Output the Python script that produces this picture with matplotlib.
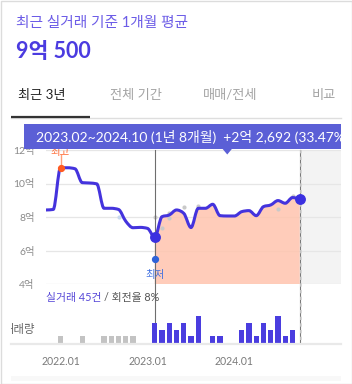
import numpy as np
import matplotlib
matplotlib.use('Agg')
import matplotlib.pyplot as plt
import matplotlib.transforms as mtransforms
from matplotlib.path import Path
from matplotlib.patches import PathPatch, Rectangle, Polygon
from matplotlib.lines import Line2D

plt.rcParams['font.family'] = ['Lato', 'Noto Sans CJK KR', 'DejaVu Sans']

# month index: 0 = 2022.01
months = list(range(-2, 34))  # 2021.11 .. 2024.10
avg_price = [8.42, 8.45, 10.94, 10.94, 10.88, 10.05, 10.03, 9.98, 8.52, 8.52,
             8.45, 7.75, 7.36, 7.38, 7.32, 6.78, 8.02, 8.12, 8.42, 8.22,
             7.37, 8.52, 8.52, 8.76, 8.08, 8.06, 8.06, 8.32, 8.38, 8.08,
             8.62, 8.72, 8.98, 8.82, 9.16, 9.05]

deal_m = [8, 13, 14, 15, 15, 17, 19, 30, 32]
deal_v = [8.0, 8.02, 7.37, 8.26, 7.96, 8.58, 8.66, 8.48, 9.25]

vol_old_m = [0, 3, 6, 7, 8, 9, 10]
vol_old = [1, 1, 1, 1, 1, 1, 1]
vol_new_m = [13, 14, 15, 16, 17, 18, 19, 21, 22, 25, 26, 27, 28, 29, 30, 31, 32]
vol_new = [3, 2, 3, 2, 3, 1, 4, 1, 1, 2, 3, 1, 3, 2, 4, 1, 2]

ytick_vals = [4, 6, 8, 10, 12]
ytick_labels = ['4억', '6억', '8억', '10억', '12억']
xtick_m = [0, 12, 24]
xtick_labels = ['2022.01', '2023.01', '2024.01']

p_start, p_end = 13, 33
high_m, high_v = 0, 10.94
low_m, low_v = 13, 5.5

W, H = 352, 384
fig = plt.figure(figsize=(W / 100, H / 100), dpi=100)


def px_axes(x0, y0, x1, y1, z=1):
    a = fig.add_axes([x0 / W, 1 - y1 / H, (x1 - x0) / W, (y1 - y0) / H], zorder=z)
    a.patch.set_visible(False)
    return a


def mono_path(x, y):
    # monotone cubic (like d3 curveMonotoneX) as bezier segments
    x = np.asarray(x, float); y = np.asarray(y, float)
    n = len(x)
    h = np.diff(x); s = np.diff(y) / h
    t = np.zeros(n)
    for i in range(1, n - 1):
        p = (s[i - 1] * h[i] + s[i] * h[i - 1]) / (h[i - 1] + h[i])
        t[i] = (np.sign(s[i - 1]) + np.sign(s[i])) * min(abs(s[i - 1]), abs(s[i]), 0.5 * abs(p))
    t[0] = (3 * s[0] - t[1]) / 2
    t[-1] = (3 * s[-1] - t[-2]) / 2
    verts = [(x[0], y[0])]; codes = [Path.MOVETO]
    for i in range(n - 1):
        d = h[i] / 3
        verts += [(x[i] + d, y[i] + t[i] * d), (x[i + 1] - d, y[i + 1] - t[i + 1] * d), (x[i + 1], y[i + 1])]
        codes += [Path.CURVE4] * 3
    return verts, codes


x_lo = (46 - 60.5) / 7.25
x_hi = (341 - 60.5) / 7.25

# main price chart
ax = px_axes(46, 150, 341, 284, z=1)
ax.set_xlim(x_lo, x_hi)
ax.set_ylim(4, 12)
for sp in ax.spines.values():
    sp.set_visible(False)
ax.set_xticks([])
ax.set_yticks(ytick_vals)
ax.set_yticklabels(ytick_labels)
ax.tick_params(axis='y', length=0, pad=8, labelsize=7.5, labelcolor='#8a8a8a')
ax.grid(axis='y', color='#e6e6e6', lw=0.9)
ax.set_axisbelow(True)
ax.add_patch(Rectangle((p_end, 4), x_hi - p_end, 8, facecolor='#f3f3f3', edgecolor='none', zorder=0.2))

i0, i1 = months.index(p_start), months.index(p_end)
fv, fc = mono_path(months[i0:i1 + 1], avg_price[i0:i1 + 1])
fv += [(p_end, 4), (p_start, 4), (p_start, 4)]
fc += [Path.LINETO, Path.LINETO, Path.CLOSEPOLY]
ax.add_patch(PathPatch(Path(fv, fc), facecolor='#ffc4ae', alpha=0.85, edgecolor='none', zorder=1))

ax.scatter(deal_m[:1], deal_v[:1], s=9, color='#c8d9ef', zorder=2, linewidths=0)
ax.scatter(deal_m[1:], deal_v[1:], s=9, color='#c9c9c9', zorder=2, linewidths=0)

lv, lc = mono_path(months, avg_price)
ax.add_patch(PathPatch(Path(lv, lc), fill=False, edgecolor='#4433dd', lw=2.2,
                       capstyle='round', joinstyle='round', zorder=3))

# period markers
vtrans = mtransforms.blended_transform_factory(ax.transData, fig.transFigure)
ax.add_line(Line2D([p_start, p_start], [1 - 150 / H, 1 - 343 / H], transform=vtrans,
                   color='#6e6e6e', lw=0.8, clip_on=False, zorder=2.5))
ax.add_line(Line2D([p_end, p_end], [1 - 150 / H, 1 - 343 / H], transform=vtrans,
                   color='#7a7a7a', lw=0.8, clip_on=False, zorder=2.5))
ax.add_line(Line2D([p_end + 0.22, p_end + 0.22], [1 - 150 / H, 1 - 343 / H], transform=vtrans,
                   color='#d0d0d0', lw=1.2, ls=(0, (2, 2)), clip_on=False, zorder=2.5))

ax.plot([p_start, p_end], [avg_price[i0], avg_price[i1]], 'o', ms=6.8, color='#3b30e0',
        zorder=4, clip_on=False)

# high / low
ax.plot([high_m, high_m], [high_v, 11.72], color='#ff9f7a', lw=1, zorder=3.5, clip_on=False)
ax.plot([high_m], [high_v], 'o', ms=4.2, color='#ff5a22', zorder=4, clip_on=False)
ax.text(high_m, 11.9, '최고', color='#ff6a33', fontsize=7.5, ha='center', va='center', zorder=4)
ax.plot([low_m], [low_v], 'o', ms=4.2, color='#2f63d9', zorder=4, clip_on=False)
ax.text(low_m, 4.55, '최저', color='#3f6fe0', fontsize=7.5, ha='center', va='center', zorder=4)

# volume bars
vol = px_axes(46, 316.3, 341, 343, z=1)
vol.set_xlim(x_lo, x_hi)
vol.set_ylim(0, 4)
for sp in vol.spines.values():
    sp.set_visible(False)
vol.bar(vol_old_m, vol_old, width=0.7, color='#c3c3c3', zorder=2)
vol.bar(vol_new_m, vol_new, width=0.7, color='#4a3ddf', zorder=2)
vol.set_yticks([])
vol.set_xticks(xtick_m)
vol.set_xticklabels(xtick_labels)
vol.tick_params(axis='x', length=0, pad=9.5, labelsize=7.6, labelcolor='#7a7a7a')

# card / header overlay in pixel coords
ui = px_axes(0, 0, W, H, z=5)
ui.set_xlim(0, W)
ui.set_ylim(H, 0)
ui.axis('off')
ui.add_patch(Rectangle((11, 376), 330, 5, facecolor='#f8f8f8', edgecolor='none'))

ui.text(16, 23, '최근 실거래 기준 1개월 평균', color='#6c5ce7', fontsize=10.6, va='center')
ui.text(16, 52, '9억 500', color='#4b3be0', fontsize=15.5, fontweight='bold', va='center')

tabs = ['최근 3년', '전체 기간', '매매/전세', '비교']
tab_x = [18, 110, 203, 312]
for i, (tx, tl) in enumerate(zip(tab_x, tabs)):
    ui.text(tx, 95, tl, color='#222222' if i == 0 else '#a3a3a3', fontsize=9.5, va='center')
ui.plot([11, 341], [118, 118], color='#dedede', lw=1)
ui.plot([11, 90], [117, 117], color='#333333', lw=1.6, solid_capstyle='butt')

# tooltip banner
ui.add_patch(Rectangle((24, 124), 317, 25, facecolor='#5b5fd6', edgecolor='none'))
tri_x = 60.5 + 7.25 * (p_start + p_end) / 2
ui.add_patch(Polygon([(tri_x - 5, 148.5), (tri_x + 5, 148.5), (tri_x, 154.5)],
                     facecolor='#5b5fd6', edgecolor='none'))
ui.text(36, 137, '2023.02~2024.10 (1년 8개월)  +2억 2,692 (33.47%)', color='white',
        fontsize=10.0, va='center')
# card edge hides the overflow of the banner text and of the volume label
ui.add_patch(Rectangle((341, 122), 10.5, 30, facecolor='white', edgecolor='none', zorder=5))
ui.add_patch(Rectangle((1, 318), 10, 24, facecolor='white', edgecolor='none', zorder=5))
ui.add_patch(Rectangle((0.5, 0.5), W - 1, H - 1, facecolor='none', edgecolor='#dcdcdc', lw=1, zorder=6))

# volume captions
r = fig.canvas.get_renderer()
c1 = ui.text(46, 297, '실거래 45건', color='#5748d8', fontsize=7.8, va='center')
bb = c1.get_window_extent(r)
ui.text(bb.x1 + 3, 297, '/ 회전율 8%', color='#555555', fontsize=7.8, va='center')
ui.text(35, 330, '거래량', color='#666666', fontsize=8.2, ha='right', va='center')

ui.plot([11, 341], [344, 344], color='#e9e9e9', lw=1.6)

fig.savefig('out.png', dpi=100)
